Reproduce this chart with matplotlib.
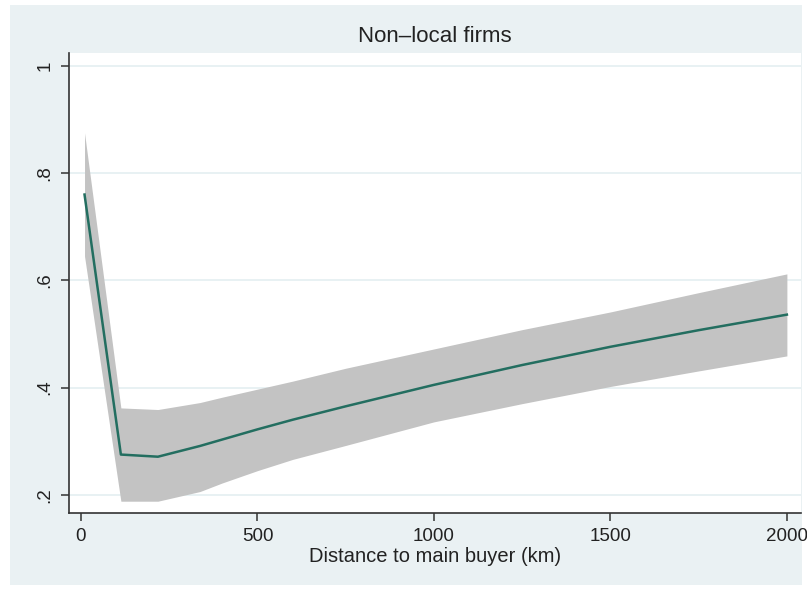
import matplotlib.pyplot as plt
from matplotlib.patches import Rectangle

# --- data ---
distance = [10, 113, 218, 337, 400, 500, 600, 750, 1000, 1250, 1500, 1750, 2000]
share = [0.760, 0.275, 0.271, 0.291, 0.303, 0.322, 0.340, 0.365, 0.405, 0.442, 0.476, 0.507, 0.536]
ci_upper = [0.875, 0.362, 0.359, 0.372, 0.382, 0.397, 0.412, 0.436, 0.472, 0.508, 0.541, 0.577, 0.612]
ci_lower = [0.645, 0.188, 0.188, 0.206, 0.222, 0.245, 0.266, 0.292, 0.336, 0.370, 0.402, 0.431, 0.459]

x_ticks = [0, 500, 1000, 1500, 2000]
y_ticks = [0.2, 0.4, 0.6, 0.8, 1.0]
y_labels = [".2", ".4", ".6", ".8", "1"]

bg = "#EAF1F3"
plt.rcParams['font.family'] = ['Liberation Sans', 'DejaVu Sans']

fig = plt.figure(figsize=(8.07, 5.91), dpi=100)
fig.patch.set_facecolor("white")
# graph region (screenshot leaves a thin white border)
fig.patches.append(Rectangle((10 / 807, 6 / 591), 792 / 807, 580 / 591,
                             transform=fig.transFigure, facecolor=bg,
                             edgecolor="none", zorder=-10))

ax = fig.add_axes([69 / 807, (591 - 513) / 591, 732 / 807, 460 / 591])
ax.set_facecolor("white")

for y in y_ticks:
    ax.axhline(y, color="#E6F0F2", linewidth=1.3, zorder=1)

ax.fill_between(distance, ci_lower, ci_upper, color="#C3C3C3", linewidth=0, zorder=2)
ax.plot(distance, share, color="#236E60", linewidth=1.8, zorder=3)

ax.set_xlim(-34, 2040)
ax.set_ylim(0.166, 1.024)
ax.set_xticks(x_ticks)
ax.set_xticklabels([str(t) for t in x_ticks])
ax.set_yticks(y_ticks)
ax.set_yticklabels(y_labels, rotation=90, va="center")

for side in ["top", "right"]:
    ax.spines[side].set_visible(False)
for side in ["left", "bottom"]:
    ax.spines[side].set_color("#333333")
    ax.spines[side].set_linewidth(1.2)

ax.tick_params(axis="both", direction="out", length=6, width=1.1,
               color="#333333", labelsize=13.5, labelcolor="#222222", pad=5)

ax.set_xlabel("Distance to main buyer (km)", fontsize=14.5, color="#222222", labelpad=1)
ax.set_title("Non–local firms", fontsize=16, color="#222222", pad=8)

fig.savefig("out.png", dpi=100, facecolor=fig.get_facecolor())
